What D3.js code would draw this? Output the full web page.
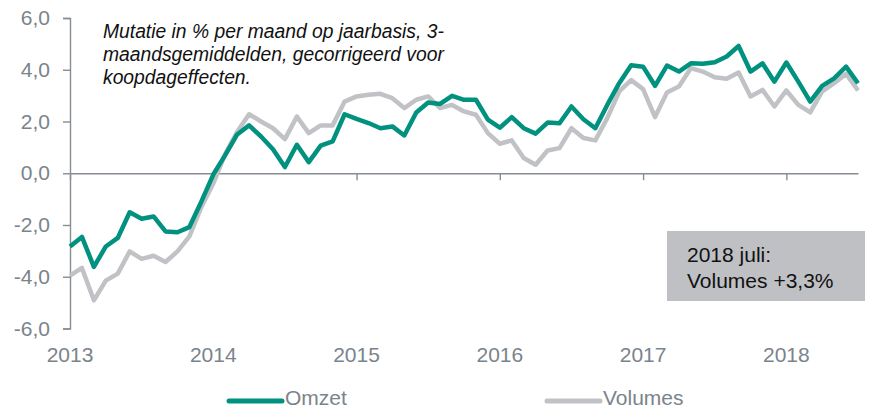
<!DOCTYPE html>
<html>
<head>
<meta charset="utf-8">
<script src="https://cdn.jsdelivr.net/npm/d3@7"></script>
<style>
  body { margin: 0; background: #fff; }
  svg { display: block; font-family: "Liberation Sans", Arial, sans-serif; }
</style>
</head>
<body>
<div id="chart"></div>
<script>
// maandcijfers jan 2013 t/m jul 2018
var years = ["2013", "2014", "2015", "2016", "2017", "2018"];

var omzet = [
  -2.83, -2.46, -3.62, -2.83, -2.50, -1.51, -1.76, -1.67, -2.25, -2.28, -2.08, -1.10,
  -0.05, 0.70, 1.50, 1.85, 1.42, 0.93, 0.24, 1.10, 0.43, 1.07, 1.23, 2.28,
  2.10, 1.94, 1.74, 1.81, 1.46, 2.35, 2.73, 2.68, 2.99, 2.84, 2.84, 2.07,
  1.76, 2.17, 1.74, 1.53, 1.96, 1.93, 2.58, 2.09, 1.74, 2.64, 3.48, 4.17,
  4.12, 3.38, 4.16, 3.93, 4.25, 4.23, 4.29, 4.51, 4.92, 3.93, 4.25, 3.54,
  4.28, 3.54, 2.77, 3.38, 3.67, 4.12, 3.48
];

var volumes = [
  -3.96, -3.66, -4.91, -4.15, -3.88, -3.02, -3.31, -3.19, -3.43, -3.02, -2.44, -1.31,
  -0.40, 0.75, 1.60, 2.28, 2.00, 1.74, 1.32, 2.19, 1.55, 1.85, 1.85, 2.77,
  2.97, 3.03, 3.07, 2.90, 2.52, 2.84, 2.97, 2.52, 2.64, 2.39, 2.26, 1.55,
  1.14, 1.27, 0.59, 0.33, 0.88, 0.97, 1.74, 1.36, 1.27, 2.13, 3.16, 3.60,
  3.25, 2.17, 3.12, 3.35, 4.06, 3.93, 3.71, 3.65, 3.89, 2.97, 3.22, 2.58,
  3.20, 2.64, 2.35, 3.16, 3.48, 3.84, 3.20
];

var yTicks = [-6, -4, -2, 0, 2, 4, 6];

var titleLines = [
  "Mutatie in % per maand op jaarbasis, 3-",
  "maandsgemiddelden, gecorrigeerd voor",
  "koopdageffecten."
];
var noteLines = ["2018 juli:", "Volumes +3,3%"];

var series = [
  { name: "Omzet", values: omzet, color: "#00917f" },
  { name: "Volumes", values: volumes, color: "#c1c2c5" }
];

var w = 870, h = 409;
var axisColor = "#868d94", labelColor = "#7b838b";

var nl = d3.formatLocale({ decimal: ",", thousands: ".", grouping: [3], currency: ["€", ""], minus: "-" });
var fmt = nl.format(".1f");

var svg = d3.select("#chart").append("svg")
  .attr("width", w)
  .attr("height", h);

var x = d3.scaleLinear().domain([0, omzet.length - 1]).range([70, 858]);
var y = d3.scaleLinear().domain([-6, 6]).range([328.5, 18]);

// y-as
var yAxis = svg.append("g")
  .attr("transform", "translate(70,0)")
  .call(d3.axisLeft(y).tickValues(yTicks).tickFormat(fmt).tickSize(7).tickPadding(13));
yAxis.select(".domain").attr("stroke", axisColor).attr("stroke-width", 1.4);
yAxis.selectAll(".tick line").attr("stroke", axisColor).attr("stroke-width", 1.4);
yAxis.selectAll(".tick text")
  .attr("fill", labelColor)
  .attr("font-size", "21px")
  .attr("font-family", "Liberation Sans, Arial, sans-serif");

// nul-lijn met jaar-ticks
var xAxis = svg.append("g")
  .attr("transform", "translate(0," + y(0) + ")")
  .call(d3.axisBottom(x).tickValues(years.map(function (d, i) { return i * 12; }))
    .tickFormat("").tickSize(7).tickSizeOuter(0));
xAxis.select(".domain").attr("stroke", axisColor).attr("stroke-width", 1.4);
xAxis.selectAll(".tick line").attr("stroke", axisColor).attr("stroke-width", 1.4);

svg.selectAll(".year")
  .data(years)
  .enter()
  .append("text")
  .attr("class", "year")
  .attr("x", function (d, i) { return x(i * 12); })
  .attr("y", 362)
  .attr("text-anchor", "middle")
  .attr("font-size", "21px")
  .attr("fill", labelColor)
  .text(function (d) { return d; });

// lijnen
var line = d3.line()
  .x(function (d, i) { return x(i); })
  .y(function (d) { return y(d); });

svg.selectAll(".serie")
  .data(series.slice().reverse())
  .enter()
  .append("path")
  .attr("class", "serie")
  .attr("d", function (d) { return line(d.values); })
  .attr("fill", "none")
  .attr("stroke", function (d) { return d.color; })
  .attr("stroke-width", 4.5)
  .attr("stroke-linejoin", "round");

// toelichting
svg.append("text")
  .attr("font-size", "19.3px")
  .attr("font-style", "italic")
  .attr("fill", "#111")
  .selectAll("tspan")
  .data(titleLines)
  .enter()
  .append("tspan")
  .attr("x", 103)
  .attr("y", function (d, i) { return 38 + i * 23; })
  .text(function (d) { return d; });

// kader juli 2018
svg.append("rect")
  .attr("x", 667).attr("y", 231)
  .attr("width", 198).attr("height", 70)
  .attr("fill", "#bfc0c3");
svg.append("text")
  .attr("font-size", "21px")
  .attr("fill", "#111")
  .selectAll("tspan")
  .data(noteLines)
  .enter()
  .append("tspan")
  .attr("x", 687)
  .attr("y", function (d, i) { return 262 + i * 26; })
  .text(function (d) { return d; });

// legenda
var legX = [229, 547];
var leg = svg.selectAll(".leg")
  .data(series)
  .enter()
  .append("g")
  .attr("class", "leg")
  .attr("transform", function (d, i) { return "translate(" + legX[i] + ",401)"; });
leg.append("line")
  .attr("x1", 0).attr("x2", 53)
  .attr("stroke", function (d) { return d.color; })
  .attr("stroke-width", 5)
  .attr("stroke-linecap", "round");
leg.append("text")
  .attr("x", 56)
  .attr("y", 4)
  .attr("font-size", "21px")
  .attr("fill", labelColor)
  .text(function (d) { return d.name; });
</script>
</body>
</html>
